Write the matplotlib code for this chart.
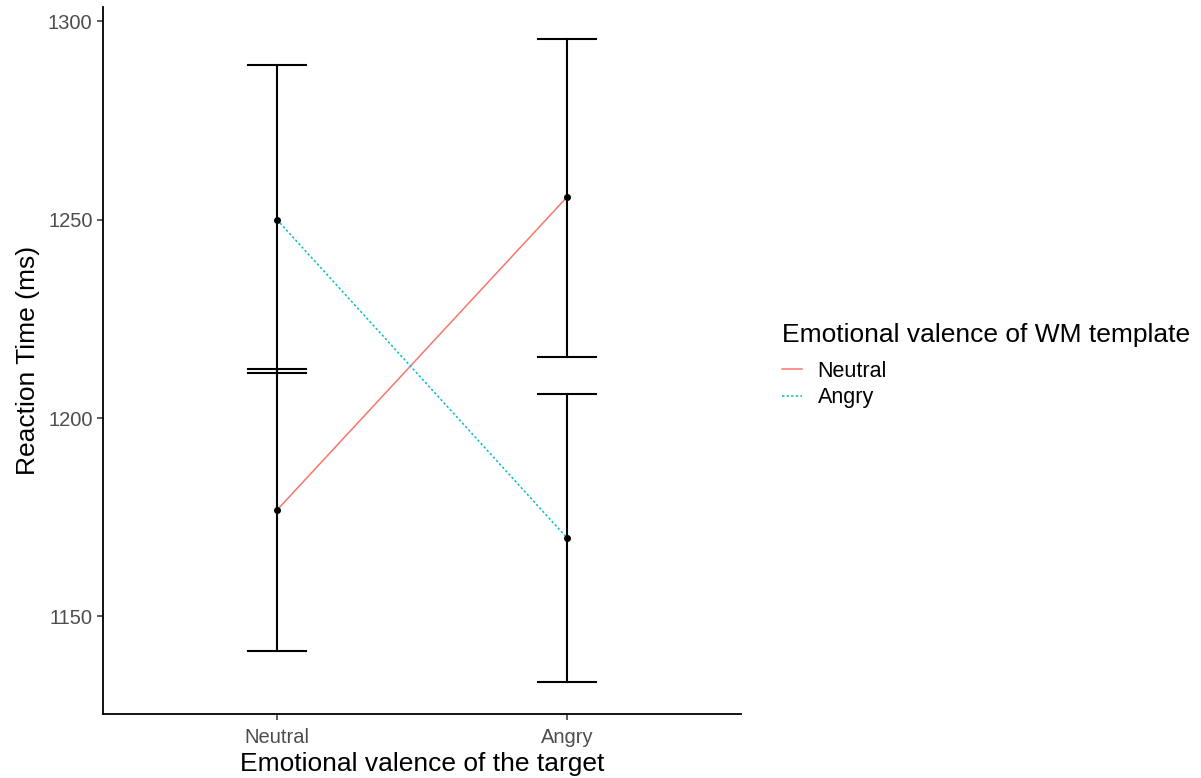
import matplotlib.pyplot as plt
from matplotlib.lines import Line2D

plt.rcParams['font.family'] = ['Liberation Sans', 'DejaVu Sans']

# 数据：目标情绪 × 工作记忆模板情绪
targets = ['Neutral', 'Angry']
templates = ['Neutral', 'Angry']
rt_mean = {'Neutral': [1176.8, 1255.7], 'Angry': [1250.0, 1169.8]}
rt_lower = {'Neutral': [1141.3, 1215.4], 'Angry': [1211.3, 1133.5]}
rt_upper = {'Neutral': [1212.4, 1295.5], 'Angry': [1288.9, 1206.0]}

colors = {'Neutral': '#F8766D', 'Angry': '#00BFC4'}
styles = {'Neutral': '-', 'Angry': (0, (1.5, 1.5))}

fig = plt.figure(figsize=(12.01, 7.78), dpi=100)
ax = fig.add_axes([103 / 1201, 64 / 778, 638 / 1201, 707 / 778])

x = [1, 2]
for t in templates:
    ax.plot(x, rt_mean[t], color=colors[t], linestyle=styles[t], lw=1.1, zorder=2)
    for xi, m, lo, hi in zip(x, rt_mean[t], rt_lower[t], rt_upper[t]):
        ax.plot([xi, xi], [lo, hi], color='black', lw=1.5, zorder=3)
        ax.plot([xi - 0.1, xi + 0.1], [lo, lo], color='black', lw=1.5, zorder=3)
        ax.plot([xi - 0.1, xi + 0.1], [hi, hi], color='black', lw=1.5, zorder=3)
    ax.scatter(x, rt_mean[t], s=16, color='black', zorder=4)

ax.set_xlim(0.4, 2.6)
ax.set_ylim(1125.4, 1303.6)
ax.set_xticks(x)
ax.set_xticklabels(targets)
ax.set_yticks([1150, 1200, 1250, 1300])

for side in ['top', 'right']:
    ax.spines[side].set_visible(False)
for side in ['left', 'bottom']:
    ax.spines[side].set_linewidth(1.3)
ax.tick_params(axis='both', colors='#333333', labelcolor='#4D4D4D',
               labelsize=14.5, length=4, width=1.1)
ax.tick_params(axis='x', pad=6)

ax.set_xlabel('Emotional valence of the target', fontsize=19, labelpad=4)
ax.set_ylabel('Reaction Time (ms)', fontsize=19, labelpad=6)

handles = [Line2D([], [], color=colors[t], linestyle=styles[t], lw=1.1) for t in templates]
leg = fig.legend(handles, templates, title='Emotional valence of WM template',
                 loc='upper left', bbox_to_anchor=(782 / 1201, 1 - 323 / 778),
                 frameon=False, fontsize=15.5, title_fontsize=19,
                 borderpad=0, borderaxespad=0,
                 handlelength=0.95, handletextpad=0.7, labelspacing=0.25)
leg._legend_box.align = 'left'
leg._legend_box.sep = 10

fig.savefig('out.png', dpi=100)
